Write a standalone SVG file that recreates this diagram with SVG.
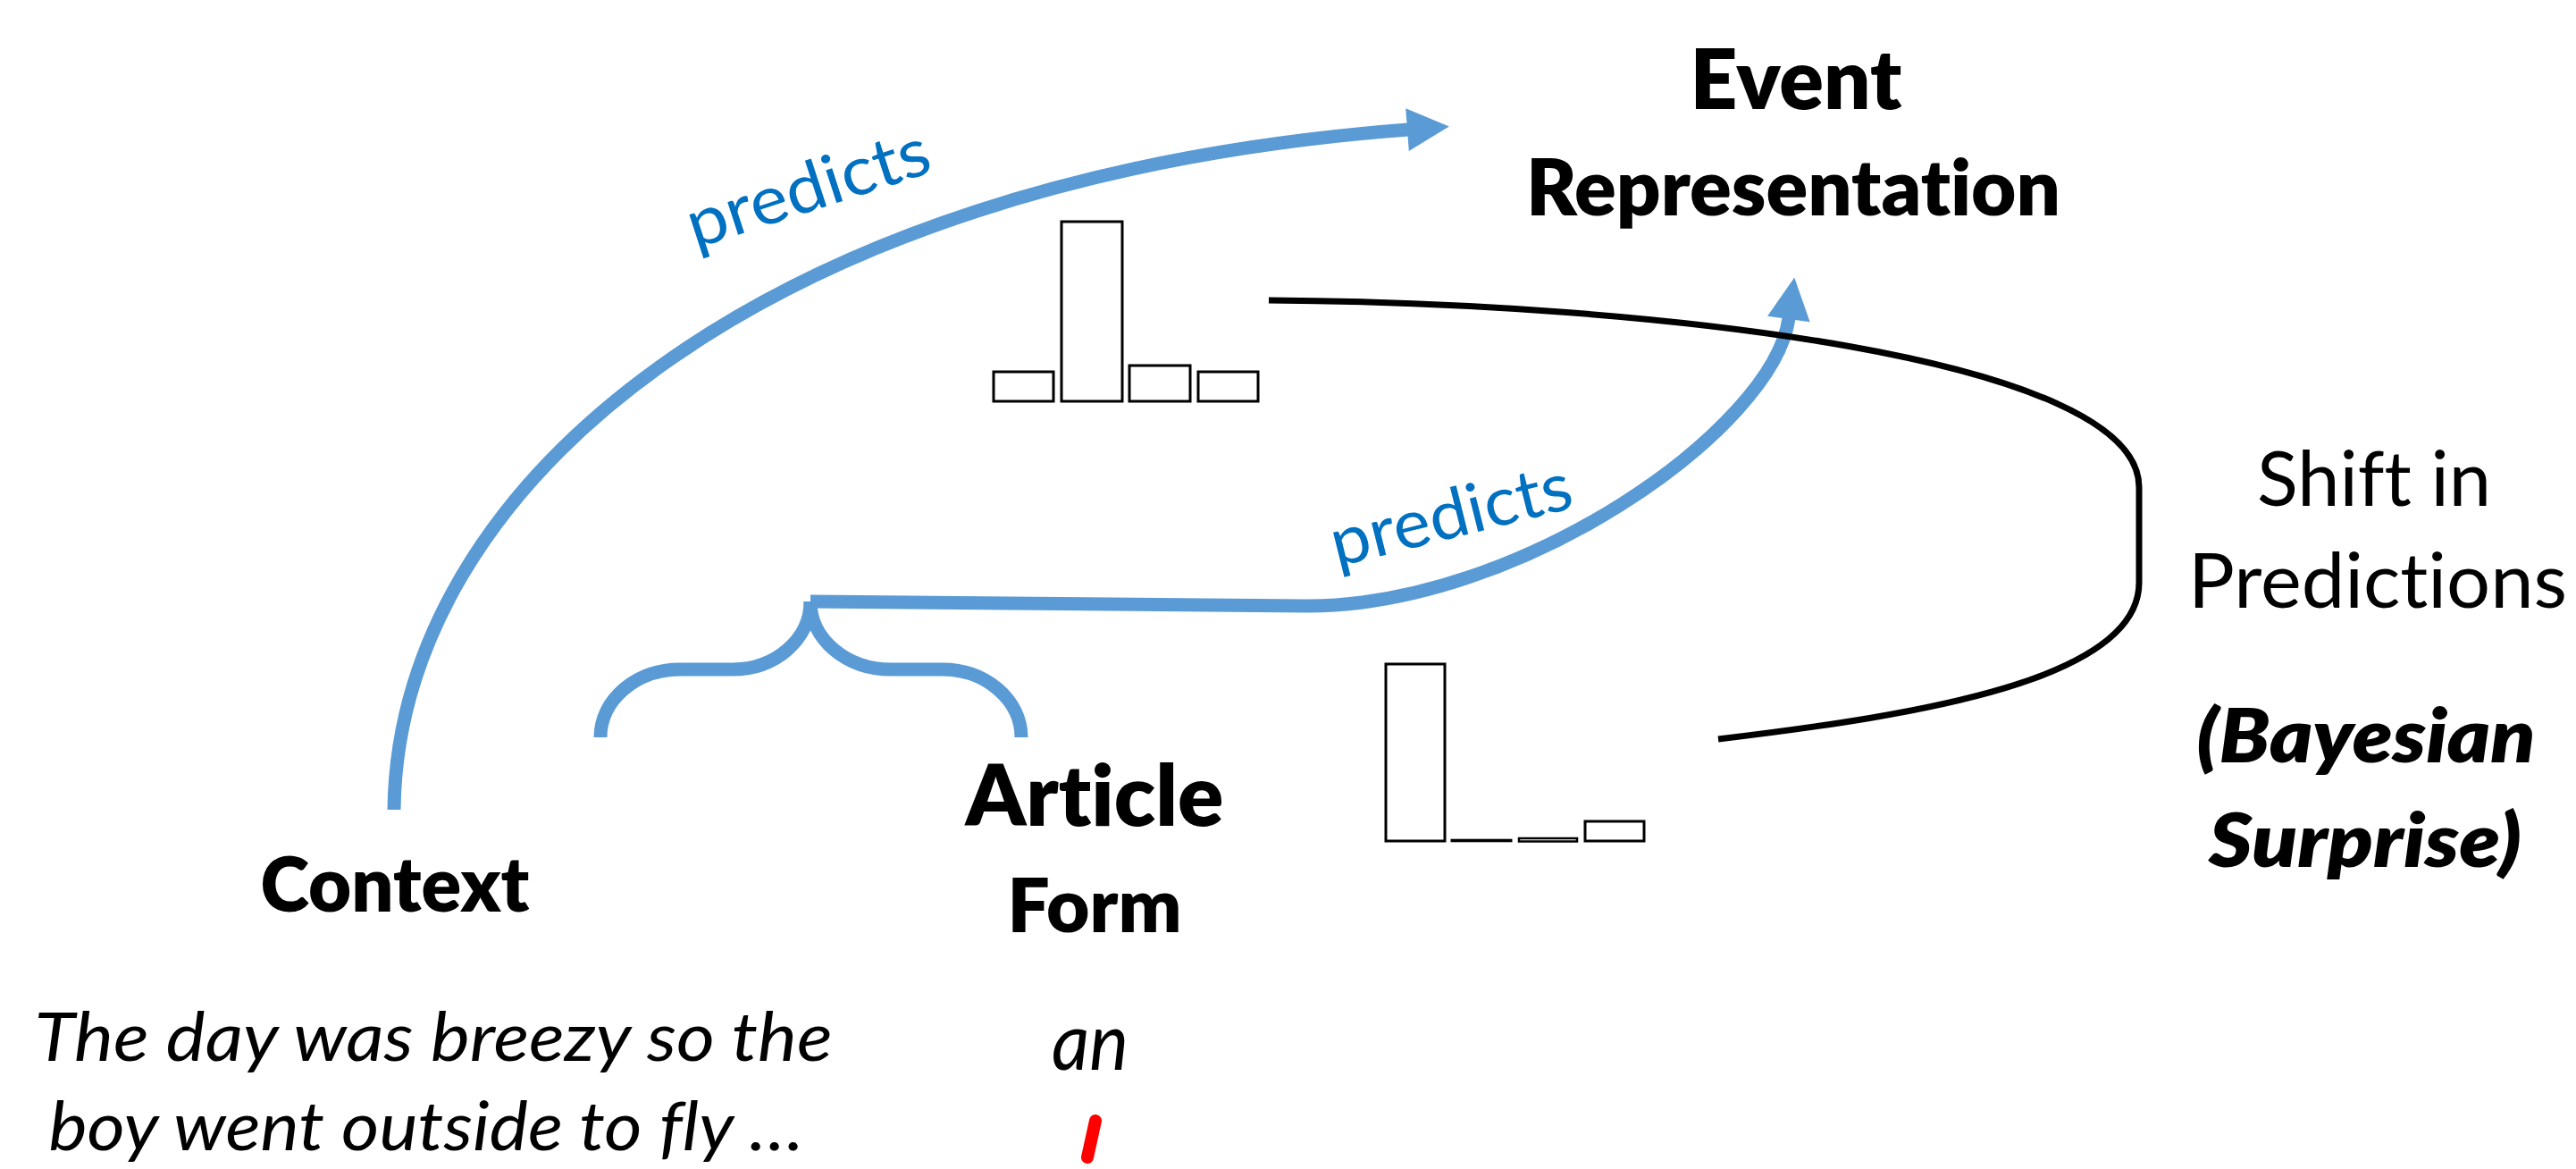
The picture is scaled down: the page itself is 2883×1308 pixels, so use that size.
<svg xmlns="http://www.w3.org/2000/svg" width="2883" height="1308" viewBox="0 0 2883 1308">
  <style>
    text { font-family: Lato, "Liberation Sans", sans-serif; text-anchor: middle; font-variant-ligatures: none; font-feature-settings: "liga" 0, "clig" 0; }
    .lbl { font-weight: 800; fill: #000; }
    .reg { font-weight: 400; fill: #000; }
    .ital { font-style: italic; font-weight: 400; fill: #000; }
    .bital { font-style: italic; font-weight: 800; fill: #000; }
    .edge-lbl { font-weight: 400; fill: #0070C0; }
    .blue { fill: none; stroke: #5B9BD5; stroke-width: 15; stroke-linecap: butt; stroke-linejoin: round; }
    .bar { fill: #fff; stroke: #000; stroke-width: 3; }
    .flat { fill: #fff; stroke: #000; stroke-width: 2.5; }
    .shift { fill: none; stroke: #000; stroke-width: 7; }
  </style>
  <defs>
    <marker id="head" markerUnits="userSpaceOnUse" markerWidth="48" markerHeight="48" viewBox="0 0 47 48" refX="1" refY="24" orient="auto">
      <path d="M0,0 L47,24 L0,48 Z" fill="#5B9BD5"/>
    </marker>
  </defs>

  <rect width="2883" height="1308" fill="#fff"/>

  <!-- connectors -->
  <g id="connectors">
    <!-- context predicts event -->
    <path class="blue" d="M441,906 C445,545 850,200 1576,145" marker-end="url(#head)"/>
    <!-- brace under the article form -->
    <path class="blue" d="M672,825 C672,783 712,749 761,749 L820,749 C868,749 907,715 907,673"/>
    <path class="blue" d="M907,673 C907,715 947,749 997,749 L1055,749 C1103,749 1143,783 1143,825"/>
    <!-- article predicts event -->
    <path class="blue" d="M907,673 L1460,678 C1700,680 1985,480 2002,356" marker-end="url(#head)"/>
    <!-- shift between the two distributions -->
    <path class="shift" d="M1420,336 C1850,339 2394,400 2394,545 L2394,652 C2394,760 2150,800 1923,827"/>
    <text class="edge-lbl" font-size="76" x="912" y="235" textLength="282" lengthAdjust="spacingAndGlyphs" transform="rotate(-18 912 235)">predicts</text>
    <text class="edge-lbl" font-size="76" x="1630" y="601" textLength="276" lengthAdjust="spacingAndGlyphs" transform="rotate(-14 1630 601)">predicts</text>
  </g>

  <!-- prior distribution -->
  <g id="prior">
    <rect class="bar" x="1112" y="416" width="67" height="33"/>
    <rect class="bar" x="1188" y="248" width="68" height="201"/>
    <rect class="bar" x="1264" y="409" width="68" height="40"/>
    <rect class="bar" x="1341" y="416" width="67" height="33"/>
  </g>

  <!-- posterior distribution -->
  <g id="posterior">
    <rect class="bar" x="1551" y="743" width="66" height="198"/>
    <rect class="bar" x="1625" y="940.2" width="66" height="0.6"/>
    <rect class="flat" x="1700" y="938" width="65" height="3.5"/>
    <rect class="bar" x="1774" y="919" width="66" height="22"/>
  </g>

  <g id="event">
    <text class="lbl" font-size="93" x="2010" y="122" textLength="237" lengthAdjust="spacingAndGlyphs">Event</text>
    <text class="lbl" font-size="88" x="2007" y="241" textLength="598" lengthAdjust="spacingAndGlyphs">Representation</text>
  </g>

  <g id="context">
    <text class="lbl" font-size="85" x="442" y="1020" textLength="301" lengthAdjust="spacingAndGlyphs">Context</text>
    <text class="ital" font-size="76" x="485" y="1187" textLength="893" lengthAdjust="spacingAndGlyphs">The day was breezy so the</text>
    <text class="ital" font-size="76" x="477" y="1287" textLength="845" lengthAdjust="spacingAndGlyphs">boy went outside to fly …</text>
  </g>

  <g id="article">
    <text class="lbl" font-size="94" x="1225" y="924" textLength="289" lengthAdjust="spacingAndGlyphs">Article</text>
    <text class="lbl" font-size="84" x="1225" y="1043" textLength="195" lengthAdjust="spacingAndGlyphs">Form</text>
    <text class="ital" font-size="90" x="1220" y="1197" textLength="86" lengthAdjust="spacingAndGlyphs">an</text>
    <line x1="1226" y1="1254" x2="1217" y2="1295" stroke="#FF0000" stroke-width="14" stroke-linecap="round"/>
  </g>

  <g id="surprise">
    <text class="reg" font-size="86" x="2657" y="566" textLength="262" lengthAdjust="spacingAndGlyphs">Shift in</text>
    <text class="reg" font-size="86" x="2661" y="680" textLength="424" lengthAdjust="spacingAndGlyphs">Predictions</text>
    <text class="bital" font-size="84" x="2648" y="853" textLength="379" lengthAdjust="spacingAndGlyphs">(Bayesian</text>
    <text class="bital" font-size="84" x="2647" y="970" textLength="350" lengthAdjust="spacingAndGlyphs">Surprise)</text>
  </g>
</svg>
